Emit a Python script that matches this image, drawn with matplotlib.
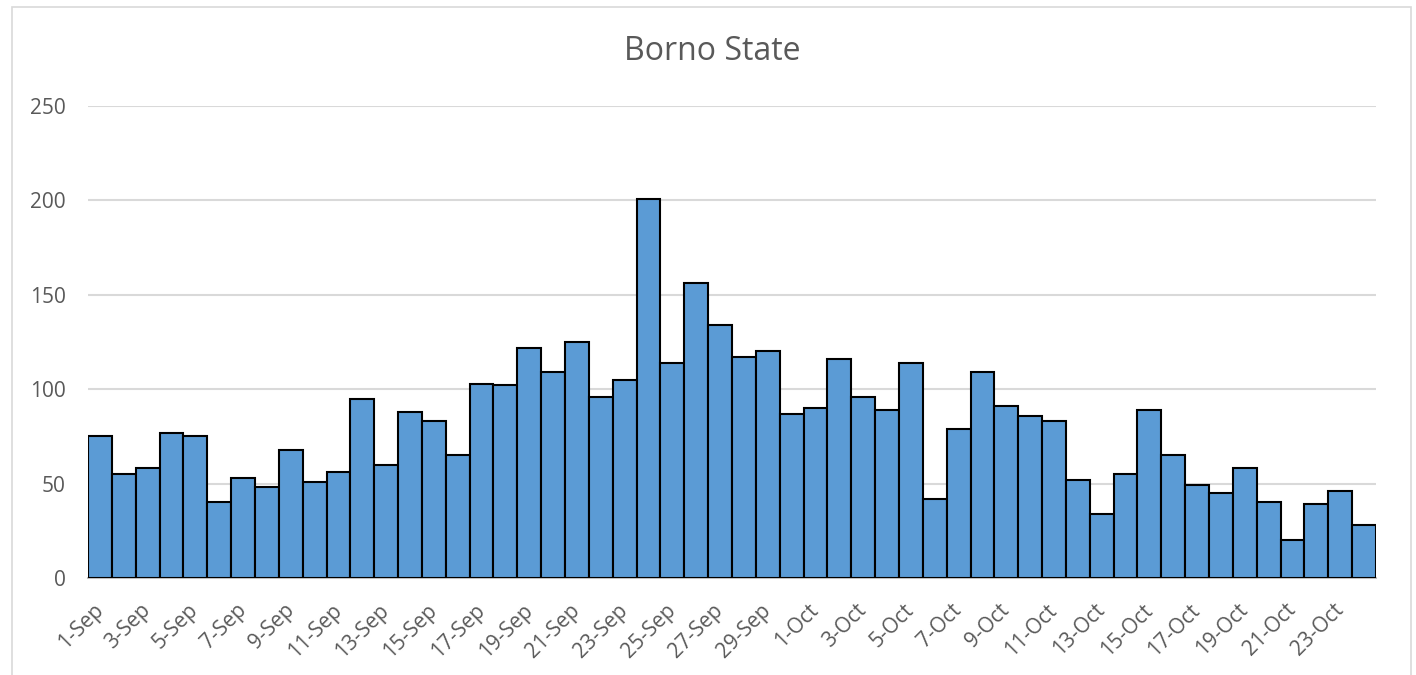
import matplotlib.pyplot as plt
import matplotlib.patches as mpatches
import numpy as np

# Daily counts, Borno State
sep_days = list(range(1, 31))
oct_days = list(range(1, 25))
dates = ['%d-Sep' % d for d in sep_days] + ['%d-Oct' % d for d in oct_days]
cases = [75, 55, 58, 77, 75, 40, 53, 48, 68, 51,
         56, 95, 60, 88, 83, 65, 103, 102, 122, 109,
         125, 96, 105, 201, 114, 156, 134, 117, 120, 87,
         90, 116, 96, 89, 114, 42, 79, 109, 91, 86,
         83, 52, 34, 55, 89, 65, 49, 45, 58, 40,
         20, 39, 46, 28]
yticks = [0, 50, 100, 150, 200, 250]

plt.rcParams['font.family'] = ['Open Sans', 'DejaVu Sans']
txt = '#595959'

fig = plt.figure(figsize=(14.16, 6.75), dpi=100)
W, H = 1416, 675
ax = fig.add_axes([88 / W, 1 - 578 / H, (1376 - 88) / W, (578 - 106) / H])

x = np.arange(len(cases))
ax.bar(x, cases, width=1.0, color='#5B9BD5', edgecolor='black',
       linewidth=1.5, zorder=3)

ax.set_xlim(-0.5, len(cases) - 0.5)
ax.set_ylim(0, 250)
ax.set_yticks(yticks)
ax.set_yticklabels([str(v) for v in yticks], color=txt, fontsize=15)
ax.grid(axis='y', color='#d9d9d9', linewidth=1.5, zorder=0)
ax.tick_params(axis='y', length=0, pad=16)
ax.tick_params(axis='x', length=0, pad=21)

ax.set_xticks(x[::2])
ax.set_xticklabels(dates[::2], rotation=45, ha='right', va='center',
                   rotation_mode='anchor', color=txt, fontsize=15)

for s in ['top', 'right', 'left']:
    ax.spines[s].set_visible(False)
ax.spines['bottom'].set_color('#bfbfbf')
ax.spines['bottom'].set_linewidth(1.5)

fig.text(712 / W, 1 - 52 / H, 'Borno State', ha='center', va='center',
         color=txt, fontsize=23)

# chart area border
fig.patches.append(mpatches.Rectangle(
    (12 / W, -0.01), (1411 - 12) / W, 1.01 - 7 / H,
    transform=fig.transFigure, fill=False, edgecolor='#d9d9d9',
    linewidth=1.2))

fig.savefig('out.png', dpi=100)
